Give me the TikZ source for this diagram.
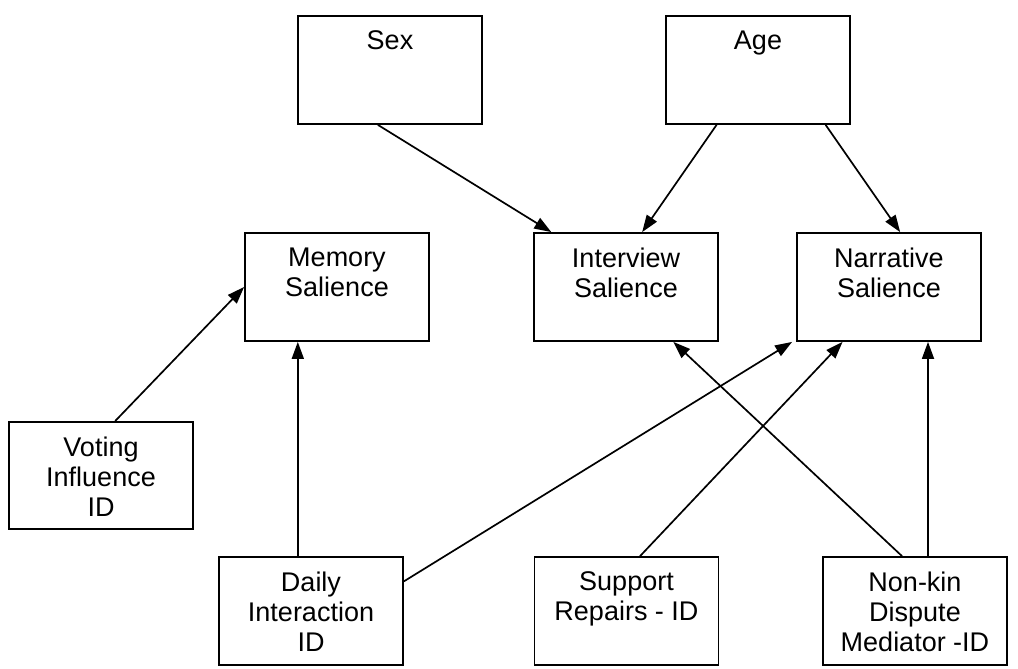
\documentclass[tikz,border=0pt]{standalone}
\usepackage{fontspec}
\setmainfont{Liberation Sans}
\usetikzlibrary{arrows.meta,calc}
\begin{document}
\begin{tikzpicture}[x=1pt,y=-1pt,
  box/.style={draw,line width=1.8pt,rectangle,minimum width=184pt,minimum height=108pt,inner sep=0pt},
  lbl/.style={align=center,font=\fontsize{27}{30}\selectfont,inner sep=0pt,anchor=north,yshift=-15.5pt},
  arr/.style={line width=1.7pt,-{Triangle[length=17pt,width=12pt]}}]
\useasboundingbox (0,0) rectangle (1018,669);
% boxes
\node[box] (sex) at (390,70) {};
\node[box] (age) at (758,70) {};
\node[box] (mem) at (337,287) {};
\node[box] (int) at (626,287) {};
\node[box] (nar) at (889,287) {};
\node[box,minimum height=107pt] (vot) at (101,475.5) {};
\node[box] (dai) at (311,611) {};
\node[box] (sup) at (626.5,611) {};
\node[box] (non) at (915,611) {};
% labels
\node[lbl] (sexT) at (sex.north) {Sex};
\node[lbl] (ageT) at (age.north) {Age};
\node[lbl] (memT) at (mem.north) {Memory\\Salience};
\node[lbl] (intT) at (int.north) {Interview\\Salience};
\node[lbl] (narT) at (nar.north) {Narrative\\Salience};
\node[lbl] (votT) at (vot.north) {Voting\\Influence\\ID};
\node[lbl] (daiT) at (dai.north) {Daily\\Interaction\\ID};
\node[lbl] (supT) at (sup.north) {Support\\Repairs - ID};
\node[lbl] (nonT) at (non.north) {Non-kin\\Dispute\\Mediator -ID};
% connectors
\draw[arr] ($(sex.south west)!0.435!(sex.south east)$) -- ($(int.north west)!0.098!(int.north east)$);
\draw[arr] ($(age.south west)!0.277!(age.south east)$) -- ($(int.north west)!0.587!(int.north east)$);
\draw[arr] ($(age.south west)!0.864!(age.south east)$) -- ($(nar.north west)!0.56!(nar.north east)$);
\draw[arr] ($(vot.north west)!0.576!(vot.north east)$) -- (mem.west);
\coordinate (daiTop) at ($(dai.north west)!0.429!(dai.north east)$);
\draw[arr] (daiTop) -- (daiTop |- mem.south);
\draw[arr] ($(dai.north east)!0.23!(dai.south east)$) -- ($(nar.south west)+(-4,0)$);
\draw[arr] ($(sup.north west)!0.573!(sup.north east)$) -- ($(nar.south west)!0.25!(nar.south east)$);
\draw[arr] ($(non.north west)!0.43!(non.north east)$) -- ($(int.south west)!0.755!(int.south east)$);
\coordinate (nonTop) at ($(non.north west)!0.57!(non.north east)$);
\draw[arr] (nonTop) -- (nonTop |- nar.south);
\end{tikzpicture}
\end{document}
